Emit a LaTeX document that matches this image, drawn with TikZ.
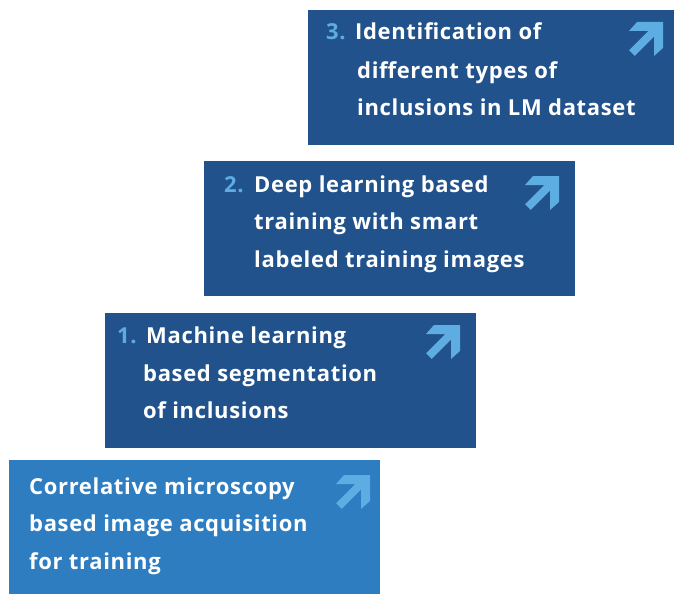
\documentclass[tikz,border=0pt]{standalone}
\usepackage{fontspec}
\setmainfont[LetterSpace=3]{Open Sans}
\definecolor{darkbox}{RGB}{33,82,140}
\definecolor{lightbox}{RGB}{47,125,193}
\definecolor{accent}{RGB}{93,172,226}
\begin{document}
\begin{tikzpicture}[x=1pt,y=-1pt,
  boxstyle/.style={draw=none, rectangle, inner sep=0pt, anchor=north west},
  linetext/.style={anchor=base west, inner sep=0pt, text=white, font=\fontsize{22}{26}\selectfont\bfseries},
  numtext/.style={anchor=base west, inner sep=0pt, text=accent, font=\fontsize{22}{26}\selectfont\bfseries},
  arrowicon/.pic={\fill[accent] (0,0) -- (-26,0) -- (-34,9) -- (-14.7,9) -- (-33.9,28.3) -- (-28.3,33.9) -- (-9,14.7) -- (-9,34) -- (0,26) -- cycle;}
]
\useasboundingbox (0,0) rectangle (674,594);
% boxes
\node[boxstyle, fill=darkbox, minimum width=366pt, minimum height=135pt] (b3) at (308,10) {};
\node[boxstyle, fill=darkbox, minimum width=371pt, minimum height=135pt] (b2) at (204,161) {};
\node[boxstyle, fill=darkbox, minimum width=371pt, minimum height=135pt] (b1) at (105,313) {};
\node[boxstyle, fill=lightbox, minimum width=371pt, minimum height=134pt] (b0) at (9,460) {};
% arrows
\pic at (663,22) {arrowicon};
\pic at (559,176) {arrowicon};
\pic at (460,325) {arrowicon};
\pic at (370,475) {arrowicon};
% box 3
\node[numtext] (n3) at (326,40) {3.};
\node[linetext] (t3a) at (355,40) {Identification of};
\node[linetext] (t3b) at (357,78) {different types of};
\node[linetext] (t3c) at (357,115.5) {inclusions in LM dataset};
% box 2
\node[numtext] (n2) at (224,192) {2.};
\node[linetext] (t2a) at (254,192) {Deep learning based};
\node[linetext] (t2b) at (254,229) {training with smart};
\node[linetext] (t2c) at (254,267) {labeled training images};
% box 1
\node[numtext] (n1) at (117,343) {1.};
\node[linetext] (t1a) at (146,343) {Machine learning};
\node[linetext] (t1b) at (143,381) {based segmentation};
\node[linetext] (t1c) at (143,418.5) {of inclusions};
% box 0
\node[linetext] (t0a) at (29,494) {Correlative microscopy};
\node[linetext] (t0b) at (29,531.5) {based image acquisition};
\node[linetext] (t0c) at (29,569) {for training};
\end{tikzpicture}
\end{document}
